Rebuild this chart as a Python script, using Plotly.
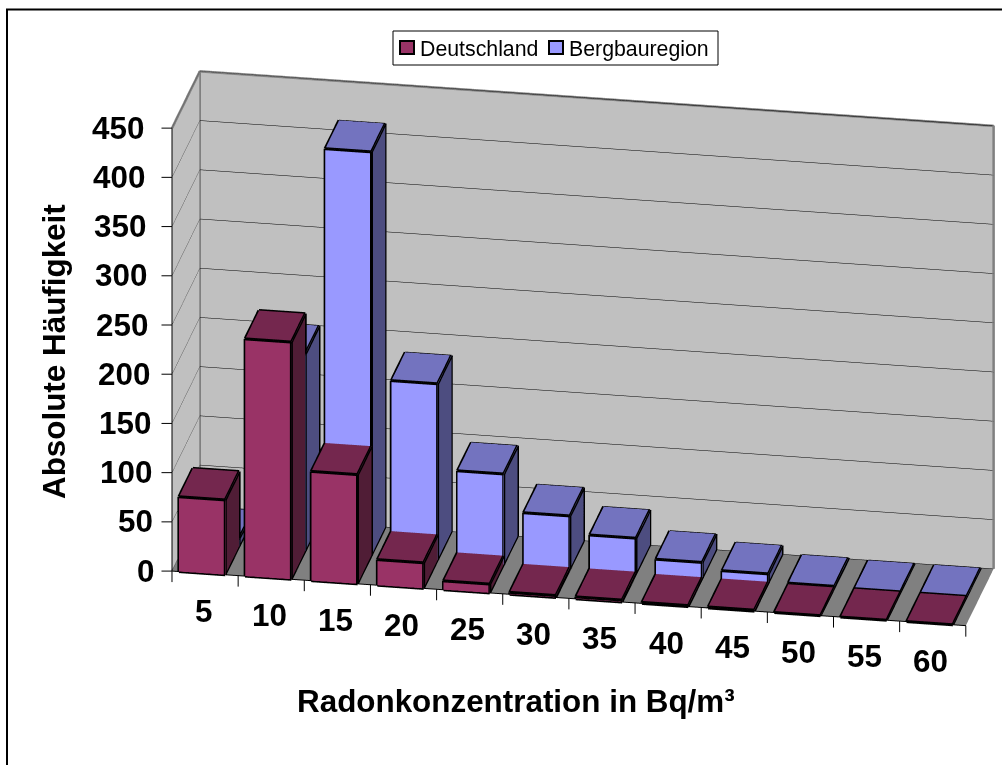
import numpy as np
import plotly.graph_objects as go

categories = ["5", "10", "15", "20", "25", "30", "35", "40", "45", "50", "55", "60"]
deutschland = [76, 241, 111, 26, 9, 2, 2, 1, 1, 0, 0, 0]
bergbau = [8, 200, 410, 179, 92, 54, 36, 16, 9, 1, 0, 0]
z_ticks = [0, 50, 100, 150, 200, 250, 300, 350, 400, 450]

red = dict(front="#993366", side="#501d36", top="#74274e")
blue = dict(front="#9999ff", side="#4d4d80", top="#7373bf")

x0, x1 = 0.105, 0.805  # bar span inside one category


def bar_mesh(names, values, row, cols, name):
    xs, ys, zs, ii, jj, kk, fc = [], [], [], [], [], [], []
    ex, ey, ez = [], [], []
    for c in range(len(names)):
        h = values[c]
        l, r = c + x0, c + x1
        a, b = row, row + 1
        n = len(xs)
        xs += [l, r, r, l, l, r, r, l]
        ys += [a, a, b, b, a, a, b, b]
        zs += [0, 0, 0, 0, h, h, h, h]
        # front, right side, top
        ii += [n, n, n+1, n+1, n+4, n+4]
        jj += [n+1, n+5, n+2, n+6, n+5, n+6]
        kk += [n+5, n+4, n+6, n+5, n+6, n+7]
        fc += [cols["front"]]*2 + [cols["side"]]*2 + [cols["top"]]*2
        for p, q in [(0, 1), (1, 5), (5, 4), (4, 0), (1, 2), (2, 6), (6, 5), (6, 7), (7, 4)]:
            ex += [xs[n+p], xs[n+q], None]
            ey += [ys[n+p], ys[n+q], None]
            ez += [zs[n+p], zs[n+q], None]
    mesh = go.Mesh3d(x=xs, y=ys, z=zs, i=ii, j=jj, k=kk, facecolor=fc, flatshading=True,
                     lighting=dict(ambient=1, diffuse=0, specular=0, fresnel=0, roughness=1),
                     hoverinfo="skip", showlegend=False, name=name)
    edges = go.Scatter3d(x=ex, y=ey, z=ez, mode="lines", line=dict(color="black", width=6),
                         hoverinfo="skip", showlegend=False)
    return [mesh, edges]


fig = go.Figure()
for tr in bar_mesh(categories, bergbau, 1, blue, "Bergbauregion"):
    fig.add_trace(tr)
for tr in bar_mesh(categories, deutschland, 0, red, "Deutschland"):
    fig.add_trace(tr)

# grey frame of the walls
nc = len(categories)
top = z_ticks[-1]
fx = [0, 0, nc, nc, None, 0, 0, None, 0, 0]
fy = [0, 2, 2, 2, None, 2, 2, None, 0, 2]
fz = [top, top, top, 0, None, top, 0, None, 0, 0]
fig.add_trace(go.Scatter3d(x=fx, y=fy, z=fz, mode="lines", line=dict(color="#808080", width=5),
                           hoverinfo="skip", showlegend=False))

axis_font = dict(family="Liberation Sans, Arial", size=31.4, color="black", weight="bold")
legend_font = dict(family="Liberation Sans, Arial", size=21.3, color="black")
labels = [dict(x=c + 0.5, y=0, z=0, text=categories[c], showarrow=False, yshift=-38, xshift=-2,
               font=axis_font) for c in range(nc)]
labels += [dict(x=0, y=0, z=v, text=str(v), showarrow=False, xanchor="right",
                xshift=-(16 + 10*v/top), font=axis_font) for v in z_ticks]
# tick marks: gl ticks come out too short, so use plain arrows anchored on the axes
tick = dict(text=" ", showarrow=True, arrowhead=0, arrowwidth=1, arrowcolor="black", standoff=0,
            borderpad=0, font=dict(size=1))
labels += [dict(x=c, y=0, z=0, ax=0, ay=12, **tick) for c in range(nc + 1)]
labels += [dict(x=0, y=0, z=v, ax=-11, ay=0, **tick) for v in z_ticks]

elev, rot = np.radians(22), np.radians(10.4)
dist = 1.44
eye = np.array([np.sin(rot)*np.cos(elev), -np.cos(rot)*np.cos(elev), np.sin(elev)]) * dist
right = np.array([np.cos(rot), np.sin(rot), 0])
up = np.array([-np.sin(rot)*np.sin(elev), np.cos(rot)*np.sin(elev), np.cos(elev)])
# move the box on the page: 77 px right, 32 px up, at about 360 px per scene unit
center = -(77/360)*right - (32/360)*up
eye = eye + center


def px_x(p):
    return p/1002


def px_y(p):
    return 1 - p/765


def box(l, t, r, b, fill, width):
    return dict(type="rect", xref="paper", yref="paper", x0=px_x(l), x1=px_x(r), y0=px_y(b), y1=px_y(t),
                fillcolor=fill, line=dict(color="black", width=width))


fig.update_layout(
    width=1002, height=765, margin=dict(l=0, r=0, t=0, b=0), paper_bgcolor="white", showlegend=False,
    scene=dict(
        domain=dict(x=[0, 1], y=[0, 1]),
        aspectmode="manual", aspectratio=dict(x=2.11, y=0.403, z=1.249),
        camera=dict(eye=dict(x=eye[0], y=eye[1], z=eye[2]),
                    center=dict(x=center[0], y=center[1], z=center[2]), up=dict(x=0, y=0, z=1),
                    projection=dict(type="orthographic")),
        xaxis=dict(range=[0, nc], tickvals=list(range(nc + 1)), ticktext=[""]*(nc + 1), title="",
                   showgrid=False, zeroline=False, showline=True, linecolor="black", linewidth=2,
                   ticks="", showbackground=True, backgroundcolor="#c0c0c0", showspikes=False),
        yaxis=dict(range=[0, 2], tickvals=[], title="", showgrid=False, zeroline=False,
                   showbackground=True, backgroundcolor="#c0c0c0", showspikes=False,
                   showline=False),
        zaxis=dict(range=[0, top], tickvals=z_ticks, title="", gridcolor="black", gridwidth=1,
                   zeroline=False, showline=True, linecolor="black", linewidth=2,
                   ticks="", showticklabels=False,
                   showbackground=True, backgroundcolor="#808080", showspikes=False),
        annotations=labels,
    ),
    annotations=[
        dict(text="Absolute Häufigkeit", xref="paper", yref="paper", x=px_x(55), y=px_y(352),
             xanchor="center", yanchor="middle", textangle=-90, showarrow=False, font=axis_font),
        dict(text="Radonkonzentration in Bq/m³", xref="paper", yref="paper", x=px_x(516), y=px_y(701),
             xanchor="center", yanchor="middle", showarrow=False, font=axis_font),
        dict(text="Deutschland", xref="paper", yref="paper", x=px_x(420), y=px_y(49),
             xanchor="left", yanchor="middle", showarrow=False, font=legend_font, xshift=-2),
        dict(text="Bergbauregion", xref="paper", yref="paper", x=px_x(569), y=px_y(49),
             xanchor="left", yanchor="middle", showarrow=False, font=legend_font, xshift=-2),
    ],
    shapes=[
        dict(type="rect", xref="paper", yref="paper", x0=px_x(7), x1=1.05, y0=-0.05, y1=px_y(9.5),
             line=dict(color="black", width=2)),
        box(393, 31, 718, 65, "white", 1),
        box(400, 41, 414, 54, red["front"], 2),
        box(549, 41, 563, 54, blue["front"], 2),
    ],
)

fig.write_html("out.html", config={"displayModeBar": False},
               post_script="document.body.style.margin='0';")
